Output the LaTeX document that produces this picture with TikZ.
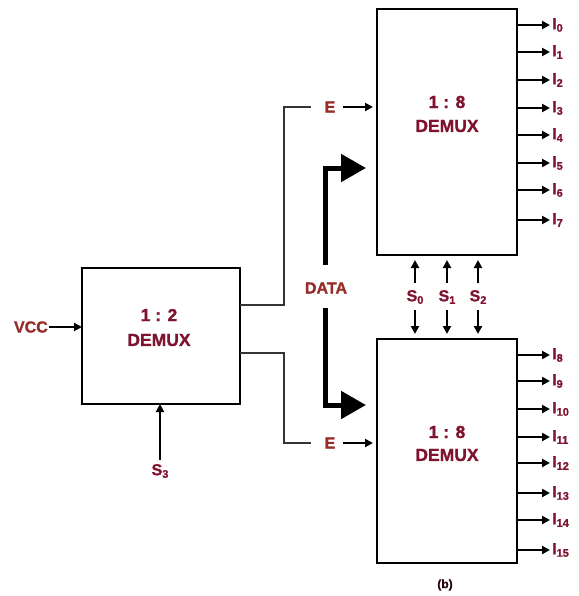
\documentclass[tikz,border=0pt]{standalone}
\usepackage{fontspec}
\setmainfont{Liberation Sans}[BoldFont={Liberation Sans Bold},BoldFeatures={FakeBold=1.2}]
\usetikzlibrary{arrows.meta,calc}
\definecolor{labred}{RGB}{128,20,48}
\definecolor{labbrown}{RGB}{150,45,40}
\newcommand{\subx}[1]{\raisebox{-0.3ex}{\fontsize{11}{11}\selectfont #1}}
\begin{document}
\begin{tikzpicture}[x=1pt,y=-1pt,
  box/.style={draw,line width=2.8pt,inner sep=0pt,outer sep=0pt},
  lbl/.style={text=labred,font=\bfseries\fontsize{16}{16}\selectfont,inner sep=1pt},
  lblb/.style={text=labbrown,font=\bfseries\fontsize{16}{16}\selectfont,inner sep=1pt},
  big/.style={text=labred,font=\bfseries\fontsize{17.5}{17.5}\selectfont,inner sep=1pt},
  arr/.style={line width=2pt,-{Triangle[length=8pt,width=8pt]}},
  wire/.style={line width=1.6pt,black!80},
  bus/.style={line width=5pt,-{Triangle[length=25pt,width=27pt]}}]
\useasboundingbox (0,0) rectangle (578,596);
% boxes
\node[box,minimum width=140pt,minimum height=246pt] (top) at (447,132) {};
\node[box,minimum width=140pt,minimum height=224pt] (bot) at (447,451) {};
\node[box,minimum width=158pt,minimum height=136pt] (small) at (161,336) {};
% box texts
\node[big] (ta) at (447,102) {1 : 8};
\node[big] (tb) at (447,126) {DEMUX};
\node[big] (ba) at (447,432) {1 : 8};
\node[big] (bb) at (447,455) {DEMUX};
\node[big] (sa) at (159,315) {1 : 2};
\node[big] (sbx) at (159,340) {DEMUX};
% outputs
\foreach \i/\y in {0/25,1/52,2/80,3/108,4/135,5/163,6/190,7/220}{
  \node[lbl,anchor=west] (o\i) at (551,\y) {I\subx{\i}};
  \draw[arr] (top.east |- o\i.west) -- ([xshift=-1pt]o\i.west);
}
\foreach \i/\y in {8/355,9/381,10/409,11/437,12/463,13/493,14/520,15/550}{
  \node[lbl,anchor=west] (o\i) at (551,\y) {I\subx{\i}};
  \draw[arr] (bot.east |- o\i.west) -- ([xshift=-1pt]o\i.west);
}
% VCC and S3
\node[lblb,anchor=east] (vcc) at (49,327) {VCC};
\draw[arr] (vcc.east) -- (small.west |- vcc.east);
\node[lbl] (s3) at (160,471) {S\subx{3}};
\draw[arr] ([yshift=3pt]s3.north) -- (small.south -| s3.north);
% select lines
\foreach \i/\x in {0/415,1/447,2/478}{
  \node[lbl] (s\i) at (\x,297) {S\subx{\i}};
  \draw[arr,shorten >=5pt] ([yshift=6pt]s\i.north) -- (top.south -| s\i.north);
  \draw[arr,shorten >=5pt] ([yshift=-5pt]s\i.south) -- (bot.north -| s\i.south);
}
% enable lines
\node[lblb] (e1) at (330,107) {E};
\node[lblb] (e2) at (330,443) {E};
\coordinate (k1) at (284,305);
\coordinate (k2) at (284,353);
\draw[wire] (small.east |- k1) -- (k1) |- ([xshift=-12pt]e1.west);
\draw[wire] (small.east |- k2) -- (k2) |- ([xshift=-12pt]e2.west);
\draw[arr,shorten >=4pt] ([xshift=6pt]e1.east) -- (top.west |- e1.east);
\draw[arr,shorten >=4pt] ([xshift=6pt]e2.east) -- (bot.west |- e2.east);
% data
\node[lblb] (data) at (326,288) {DATA};
\coordinate (bt1) at (366,168);
\coordinate (bt2) at (366,405);
\draw[bus] ($(data.north)+(-1,-16)$) |- (bt1);
\draw[bus] ($(data.south)+(-1,13)$) |- (bt2);
% caption
\node[text=black!70!labred,font=\bfseries\fontsize{12}{12}\selectfont] (cap) at (445,585) {(b)};
\end{tikzpicture}
\end{document}
